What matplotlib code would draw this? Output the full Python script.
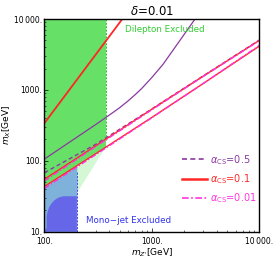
import numpy as np
import matplotlib
matplotlib.use('Agg')
import matplotlib.pyplot as plt

# ---------------------------------------------------------------- data
DELTA = '0.01'
MZ_LIMIT_DILEPTON = 370.
MZ_LIMIT_MONOJET = 200.

# near-resonance relic lines (m_X vs m_Z')
band_x = [100., 300., 1000., 3000., 10000.]
red_hi = [55., 163., 535., 1560., 5000.]
red_lo = [43.5, 126., 410., 1230., 4150.]
mag_hi = [52., 159., 525., 1545., 4950.]
mag_lo = [41., 122., 405., 1230., 4250.]
pur_hi = [68., 171., 540., 1575., 5050.]

# steep branches
red_steep_x = [100., 530.]
red_steep_y = [341., 10000.]
pur_curve_x = [100., 200., 300., 400., 500., 600., 700., 800., 1000., 1270., 1700., 2520.]
pur_curve_y = [106., 215., 325., 440., 560., 700., 860., 1040., 1500., 2300., 4300., 10000.]

alphas = ['0.5', '0.1', '0.01']

C_PUR = '#8a3aa0'
C_RED = '#ff2626'
C_MAG = '#ff33dd'
C_GREEN = '#66e066'
C_PALEGREEN = '#d4f7d4'
C_STEEL = '#7fb2da'
C_BLUE = '#6666e8'

#------------------------------------------------------------------------------
def logi(x, xs, ys):
  return 10**np.interp(np.log10(x), np.log10(xs), np.log10(ys))

#------------------------------------------------------------------------------
def main():
  fig = plt.figure(figsize=(2.73, 2.59), dpi=100)
  ax = fig.add_axes([0.163, 0.1054, 0.787, 0.8212])
  ax.set_xscale('log')
  ax.set_yscale('log')
  ax.set_xlim(100, 10000)
  ax.set_ylim(10, 10000)

  # dilepton region
  gx = np.geomspace(100, MZ_LIMIT_DILEPTON, 30)
  ax.fill_between(gx, logi(gx, band_x, red_lo), 1e4, color=C_GREEN, lw=0, zorder=1)
  ax.axvline(MZ_LIMIT_DILEPTON, ymin=0.43, color='#33bb33', ls=(0, (2, 1.5)), lw=0.7, zorder=2)
  # pale green wedge below the band
  px = [MZ_LIMIT_MONOJET, MZ_LIMIT_DILEPTON, MZ_LIMIT_MONOJET]
  py = [logi(MZ_LIMIT_MONOJET, band_x, red_lo), logi(MZ_LIMIT_DILEPTON, band_x, red_lo), 35.]
  ax.fill(px, py, color=C_PALEGREEN, lw=0, zorder=1)

  # mono-jet region
  bx = np.geomspace(100, MZ_LIMIT_MONOJET, 20)
  ax.fill_between(bx, 10, logi(bx, band_x, red_lo), color=C_STEEL, lw=0, zorder=1)
  t = np.linspace(np.pi/2, np.pi, 30)
  arc_x = 10**(2.19 + 0.17*np.cos(t))
  arc_y = 10**(1.18 + 0.32*np.sin(t))
  dx = np.concatenate([[MZ_LIMIT_MONOJET], arc_x, [10**2.02, 100., 100., MZ_LIMIT_MONOJET]])
  dy = np.concatenate([[10**1.5], arc_y, [10**1.05, 10**1.02, 10., 10.]])
  ax.fill(dx, dy, color=C_BLUE, lw=0, zorder=1)
  ax.axvline(MZ_LIMIT_MONOJET, ymax=0.28, color='#4444ee', ls=(0, (2, 1.5)), lw=0.7, zorder=2)

  # relic lines
  lw = 1.0
  ax.plot(band_x, pur_hi, color=C_PUR, ls=(0, (3, 2)), lw=lw, zorder=3)
  ax.plot(pur_curve_x, pur_curve_y, color=C_PUR, lw=0.9, zorder=3)
  ax.plot(band_x, red_hi, color=C_RED, lw=lw, zorder=3)
  ax.plot(band_x, red_lo, color=C_RED, lw=lw, zorder=3)
  ax.plot(red_steep_x, red_steep_y, color=C_RED, lw=1.3, zorder=3)
  ax.plot(band_x, mag_hi, color=C_MAG, ls=(0, (4, 1.5, 1, 1.5)), lw=lw, zorder=4)
  ax.plot(band_x, mag_lo, color=C_MAG, ls=(0, (4, 1.5, 1, 1.5)), lw=lw, zorder=4)

  # legend handles
  h1, = ax.plot([], [], color=C_PUR, ls=(0, (3, 2)), lw=1.2)
  h2, = ax.plot([], [], color=C_RED, lw=1.8)
  h3, = ax.plot([], [], color=C_MAG, ls=(0, (4, 1.5, 1, 1.5)), lw=1.2)
  ax.legend([h1, h2, h3], [r'$\alpha_{\mathrm{CS}}$=' + a for a in alphas],
            loc='lower right', bbox_to_anchor=(1.03, 0.085), frameon=False,
            fontsize=7, labelcolor=[C_PUR, C_RED, C_MAG], handlelength=2.6,
            handletextpad=0.3, labelspacing=0.55)

  ax.text(560, 7200, 'Dilepton Excluded', color='#33cc33', fontsize=6.3, va='center')
  ax.text(243, 14.6, 'Mono\u2212jet Excluded', color='#3333ee', fontsize=6.3, va='center')

  ax.set_title(r'$\delta$=' + DELTA, fontsize=8.5, pad=3)
  ax.set_xlabel(r"$m_{Z'}$[GeV]", fontsize=6.5, labelpad=1)
  ax.set_ylabel(r'$m_X$[GeV]', fontsize=6.5, labelpad=1)

  ax.set_xticks([100, 1000, 10000])
  ax.set_xticklabels(['100.', '1000.', '10\u2009000.'])
  ax.set_yticks([10, 100, 1000, 10000])
  ax.set_yticklabels(['10.', '100.', '1000.', '10\u2009000.'])
  ax.tick_params(which='both', direction='in', labelsize=5.5, pad=1.5)
  ax.tick_params(axis='x', pad=3.5)
  ax.tick_params(which='major', length=3, width=0.5)
  ax.tick_params(which='minor', length=1.5, width=0.4)
  for s in ax.spines.values():
    s.set_linewidth(1.0)
    s.set_zorder(5)

  fig.savefig('out.png', dpi=100)

#------------------------------------------------------------------------------
if __name__ == '__main__':
  main()
